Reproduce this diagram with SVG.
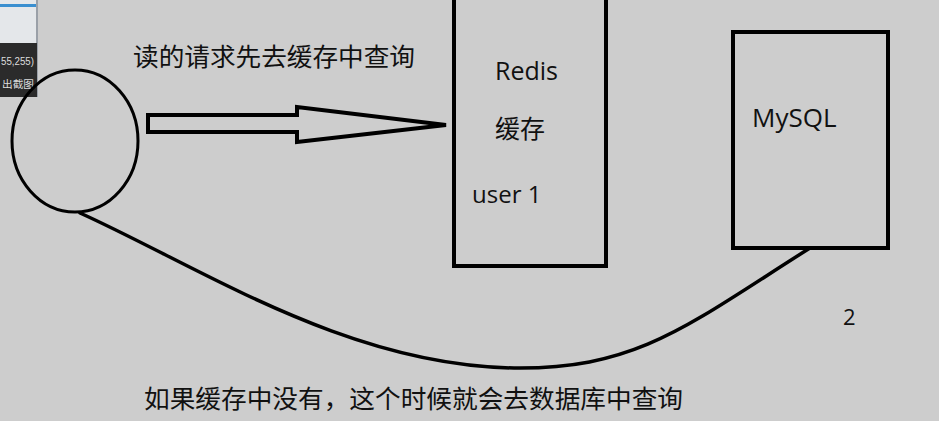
<svg xmlns="http://www.w3.org/2000/svg" width="939" height="421" viewBox="0 0 939 421">
<style>
.zh{font-family:"Noto Sans CJK SC",sans-serif;fill:#111;}
.en{font-family:"Open Sans","Noto Sans",sans-serif;fill:#111;}
.box{fill:none;stroke:#000;stroke-width:4;}
.line{fill:none;stroke:#000;stroke-width:3.5;stroke-linecap:round;}
</style>
<rect width="939" height="421" fill="#cdcdcd"/>
<g id="overlay">
<rect x="0" y="0" width="38" height="43" fill="#e4e7ea"/>
<rect x="0" y="4" width="36" height="3" fill="#3a8fd0"/>
<rect x="36" y="0" width="2" height="97" fill="#9aa0a8"/>
<rect x="0" y="43" width="37" height="54" fill="#2b2b2b"/>
<text x="1" y="65" font-family="Liberation Sans,sans-serif" font-size="10" fill="#ddd" textLength="33" lengthAdjust="spacingAndGlyphs">55,255)</text>
<text x="2" y="88" font-family="Noto Sans CJK SC,sans-serif" font-size="10" fill="#ddd" textLength="32" lengthAdjust="spacingAndGlyphs">出截图</text>
</g>
<g id="client">
<ellipse cx="75" cy="141" rx="63" ry="71" fill="none" stroke="#000" stroke-width="3"/>
</g>
<g id="redis">
<rect class="box" x="454" y="-2" width="152" height="268"/>
<text class="en" x="495" y="80" font-size="25">Redis</text>
<text class="zh" x="495" y="138" font-size="25">缓存</text>
<text class="en" x="472" y="203" font-size="24">user 1</text>
</g>
<g id="mysql">
<rect class="box" x="733" y="32" width="155" height="216"/>
<text class="en" x="752" y="127" font-size="26">MySQL</text>
</g>
<g id="connectors">
<polygon points="148,115 297,115 297,107 446,125 297,142 297,132 148,132" fill="none" stroke="#000" stroke-width="4" stroke-linejoin="miter"/>
<path class="line" d="M80,213 C200,267 350,368 520,368 C640,368 690,323.6 810,248"/>
</g>
<g id="labels">
<text class="zh" x="133" y="66" font-size="25" textLength="282" lengthAdjust="spacingAndGlyphs">读的请求先去缓存中查询</text>
<text class="zh" x="144" y="408" font-size="25.5" textLength="539" lengthAdjust="spacingAndGlyphs">如果缓存中没有，这个时候就会去数据库中查询</text>
<text class="en" x="843" y="325" font-size="22">2</text>
</g>
</svg>
